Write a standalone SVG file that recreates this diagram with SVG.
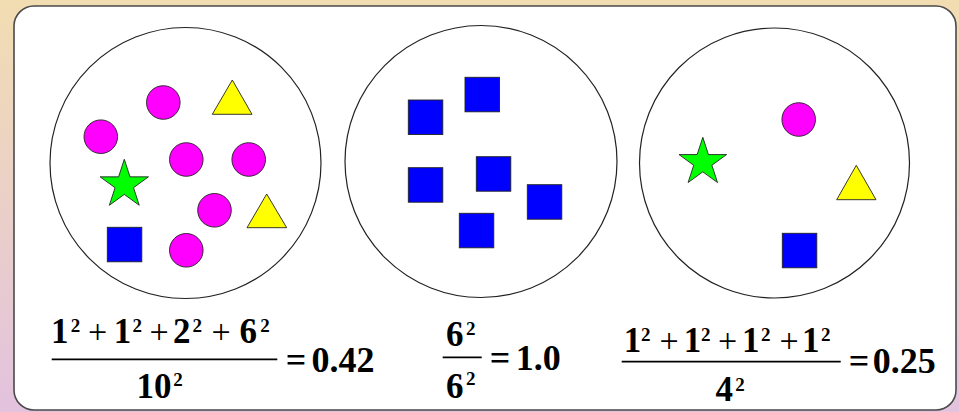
<svg xmlns="http://www.w3.org/2000/svg" width="959" height="412" viewBox="0 0 959 412">
<defs>
<linearGradient id="bg" x1="0" y1="0" x2="0" y2="1">
<stop offset="0" stop-color="#f2ddb2"/>
<stop offset="1" stop-color="#e3c2de"/>
</linearGradient>
<path id="star" d="M0,-25.4 L5.7,-7.85 L24.16,-7.85 L9.23,3 L14.93,20.55 L0,9.7 L-14.93,20.55 L-9.23,3 L-24.16,-7.85 L-5.7,-7.85 Z"/>
</defs>
<style>
.set{fill:#fff;stroke:#222;stroke-width:1.2}
.dot{fill:#ff00ff;stroke:#222;stroke-width:0.9}
.tri{fill:#ffff00;stroke:#222;stroke-width:0.9}
.sq{fill:#0000ff;stroke:#222;stroke-width:0.9}
.st{fill:#00ff00;stroke:#222;stroke-width:0.9}
.m{font-family:"Liberation Serif","Times New Roman",serif;font-weight:bold;fill:#000;text-anchor:middle}
.n{font-size:35px}
.r{font-size:36px}
.s{font-size:19px}
.p{font-size:34px;font-weight:normal}
.bar{stroke:#000;stroke-width:1.7}
</style>
<rect x="0" y="0" width="959" height="412" fill="url(#bg)"/>
<rect id="panel" x="14" y="6" width="942" height="404" rx="20" ry="20" fill="#fff" stroke="#4a4a4a" stroke-width="1.6"/>

<g id="set1">
<circle class="set" cx="185.5" cy="163" r="135.5"/>
<circle class="dot" cx="163.3" cy="102.5" r="16.8"/>
<circle class="dot" cx="100.8" cy="136.7" r="16.8"/>
<circle class="dot" cx="186.3" cy="159.5" r="16.8"/>
<circle class="dot" cx="248.7" cy="159.5" r="16.8"/>
<circle class="dot" cx="214.5" cy="210.3" r="16.8"/>
<circle class="dot" cx="186.3" cy="250.3" r="16.8"/>
<polygon class="tri" points="232.3,80 212.3,114.3 252,114.3"/>
<polygon class="tri" points="266.7,194 247,227.7 286.7,227.7"/>
<use href="#star" class="st" transform="translate(124.3,184.7)"/>
<rect class="sq" x="107.3" y="227.3" width="34.5" height="34.5"/>
</g>

<g id="set2">
<circle class="set" cx="481" cy="161.5" r="136"/>
<rect class="sq" x="408.3" y="100" width="34.5" height="34.5"/>
<rect class="sq" x="465" y="77.3" width="34.5" height="34.5"/>
<rect class="sq" x="408.3" y="167.7" width="34.5" height="34.5"/>
<rect class="sq" x="476.3" y="156.7" width="34.5" height="34.5"/>
<rect class="sq" x="527.3" y="184.7" width="34.5" height="34.5"/>
<rect class="sq" x="459.3" y="213.3" width="34.5" height="34.5"/>
</g>

<g id="set3">
<circle class="set" cx="774.5" cy="163" r="135"/>
<circle class="dot" cx="798.7" cy="119.5" r="16.8"/>
<use href="#star" class="st" transform="translate(702.8,162.3) scale(0.985)"/>
<polygon class="tri" points="856.3,165.3 836.7,199.7 876,199.7"/>
<rect class="sq" x="782.3" y="233.3" width="34.5" height="34.5"/>
</g>

<g id="formula1">
<text class="m n" x="59.7" y="343">1</text>
<text class="m s" x="75.5" y="332">2</text>
<text class="m p" x="97.5" y="343">+</text>
<text class="m n" x="122.5" y="343">1</text>
<text class="m s" x="137.3" y="332">2</text>
<text class="m p" x="159" y="343">+</text>
<text class="m n" x="181.7" y="343">2</text>
<text class="m s" x="197.3" y="332">2</text>
<text class="m p" x="221" y="343">+</text>
<text class="m n" x="248.3" y="343">6</text>
<text class="m s" x="265" y="332">2</text>
<line class="bar" x1="51.7" y1="359.3" x2="277.3" y2="359.3"/>
<text class="m n" x="154" y="398">10</text>
<text class="m s" x="178" y="386">2</text>
<text class="m r" x="296" y="372">=</text>
<text class="m r" x="343" y="372">0.42</text>
</g>

<g id="formula2">
<text class="m n" x="454.7" y="346">6</text>
<text class="m s" x="470.8" y="334.5">2</text>
<line class="bar" x1="442.7" y1="357.3" x2="481.7" y2="357.3"/>
<text class="m n" x="454.7" y="398">6</text>
<text class="m s" x="470.8" y="385">2</text>
<text class="m r" x="500" y="370">=</text>
<text class="m r" x="538.3" y="370">1.0</text>
</g>

<g id="formula3">
<text class="m n" x="632.5" y="352">1</text>
<text class="m s" x="645.8" y="341">2</text>
<text class="m p" x="669.2" y="352">+</text>
<text class="m n" x="692.5" y="352">1</text>
<text class="m s" x="705.8" y="341">2</text>
<text class="m p" x="727.5" y="352">+</text>
<text class="m n" x="750.8" y="352">1</text>
<text class="m s" x="765.8" y="341">2</text>
<text class="m p" x="789.2" y="352">+</text>
<text class="m n" x="810.8" y="352">1</text>
<text class="m s" x="825.8" y="341">2</text>
<line class="bar" x1="621.7" y1="361.7" x2="840.7" y2="361.7"/>
<text class="m n" x="724.2" y="401">4</text>
<text class="m s" x="740" y="391">2</text>
<text class="m r" x="859" y="373">=</text>
<text class="m r" x="904.2" y="373">0.25</text>
</g>
</svg>
